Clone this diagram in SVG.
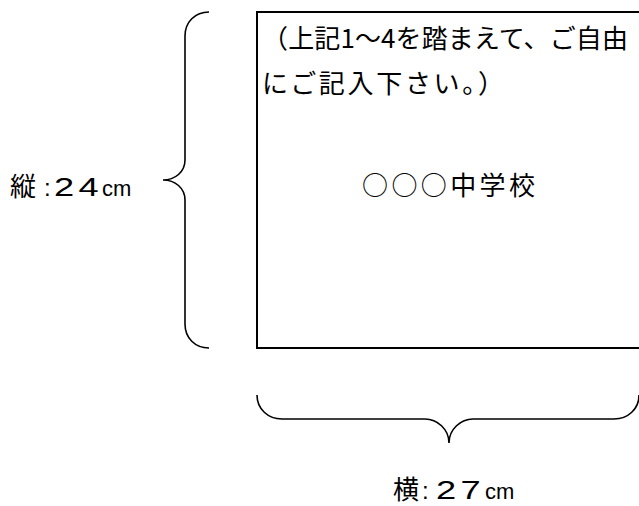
<svg xmlns="http://www.w3.org/2000/svg" width="639" height="506" viewBox="0 0 639 506">
<style>
.t{font-family:"Noto Sans CJK JP","Noto Sans CJK SC",sans-serif;font-size:26px;fill:#000}
.d{font-family:"Liberation Sans",Arial,sans-serif;font-size:25px;letter-spacing:3px;fill:#000}
.u{font-family:"Liberation Sans",Arial,sans-serif;font-size:22px;fill:#000}
.c{font-family:"Liberation Sans",Arial,sans-serif;font-size:24px;fill:#000}
.b{fill:none;stroke:#000;stroke-width:1.6}
</style>
<rect width="639" height="506" fill="#fff"/>
<g id="box">
<rect x="257" y="12" width="420" height="336" fill="#fff" stroke="#000" stroke-width="2"/>
<text class="t" x="262" y="48" textLength="366" lengthAdjust="spacing">（上記1～4を踏まえて、ご自由</text>
<text class="t" x="262" y="93" textLength="242" lengthAdjust="spacing">にご記入下さい。）</text>
<text class="t" x="362" y="195" textLength="173" lengthAdjust="spacing">○○○中学校</text>
</g>
<g id="connectors">
<path class="b" d="M209,12 C195,12 185,22 185,36 L185,160 C185,172 175,180 163,180 C175,180 185,188 185,200 L185,324 C185,338 195,348 209,348"/>
<path class="b" d="M257,395 C257,409 268,419 282,419 L425,419 C437,419 449,429 449,443 C449,429 461,419 473,419 L614,419 C628,419 639,409 639,395"/>
</g>
<g id="label-v">
<text class="t" x="10" y="196">縦</text>
<text class="c" x="44" y="196">:</text>
<text class="d" transform="translate(54,196) scale(1.45,1)">24</text>
<text class="u" x="102" y="196">cm</text>
</g>
<g id="label-h">
<text class="t" x="393" y="499">横</text>
<text class="c" x="422" y="499">:</text>
<text class="d" transform="translate(436,499) scale(1.45,1)">27</text>
<text class="u" x="485" y="499">cm</text>
</g>
</svg>
